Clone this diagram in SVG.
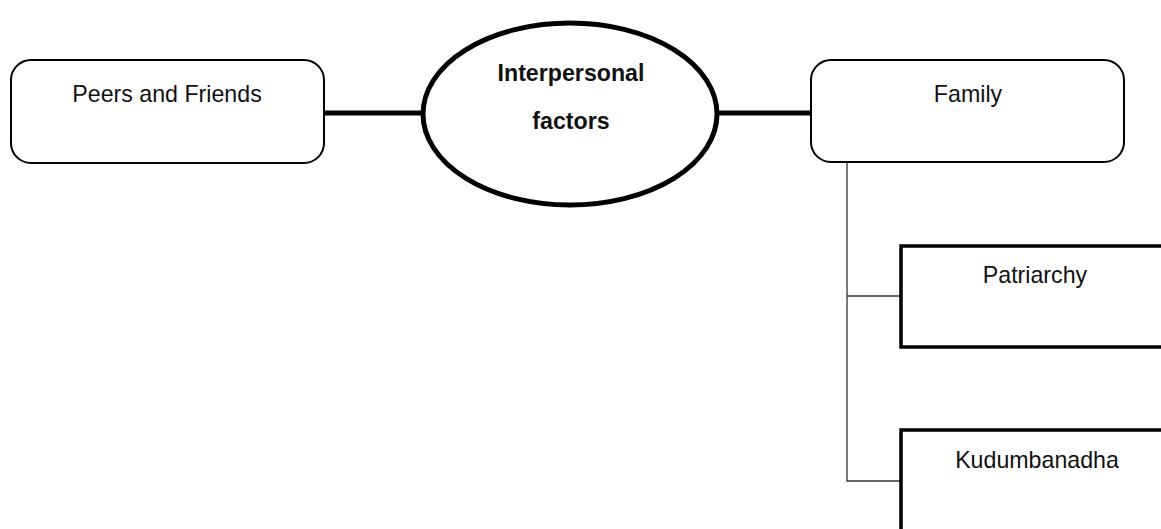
<svg xmlns="http://www.w3.org/2000/svg" width="1161" height="529" viewBox="0 0 1161 529">
  <style>
    text { font-family: "Liberation Sans", Arial, sans-serif; font-size: 23.2px; fill: #111; text-anchor: middle; }
    .bold { font-weight: bold; }
    .rbox { fill: #fff; stroke: #000; stroke-width: 2; }
    .sbox { fill: #fff; stroke: #000; stroke-width: 3.5; }
    .hub { fill: #fff; stroke: #000; stroke-width: 5; }
    .thick { stroke: #000; stroke-width: 5; fill: none; }
    .thin { stroke: #333; stroke-width: 1.3; fill: none; }
  </style>
  <rect width="1161" height="529" fill="#fff"/>

  <!-- links between nodes -->
  <g id="connectors">
    <line class="thick" x1="324" y1="113" x2="424" y2="113"/>
    <line class="thick" x1="716" y1="113" x2="812" y2="113"/>
    <polyline class="thin" points="847,162 847,481 901,481"/>
    <line class="thin" x1="847" y1="296" x2="901" y2="296"/>
  </g>

  <g id="peers">
    <rect class="rbox" x="11" y="60" width="313" height="103" rx="20"/>
    <text x="167" y="102">Peers and Friends</text>
  </g>

  <g id="interpersonal">
    <ellipse class="hub" cx="570" cy="114" rx="147" ry="91"/>
    <text class="bold" x="571" y="81">Interpersonal</text>
    <text class="bold" x="571" y="129">factors</text>
  </g>

  <g id="family">
    <rect class="rbox" x="811" y="60" width="313" height="102" rx="20"/>
    <text x="968" y="102">Family</text>
  </g>

  <g id="patriarchy">
    <rect class="sbox" x="901" y="246" width="290" height="101"/>
    <text x="1035" y="283">Patriarchy</text>
  </g>

  <g id="kudumbanadha">
    <rect class="sbox" x="901" y="430" width="290" height="120"/>
    <text x="1037" y="468">Kudumbanadha</text>
  </g>
</svg>
